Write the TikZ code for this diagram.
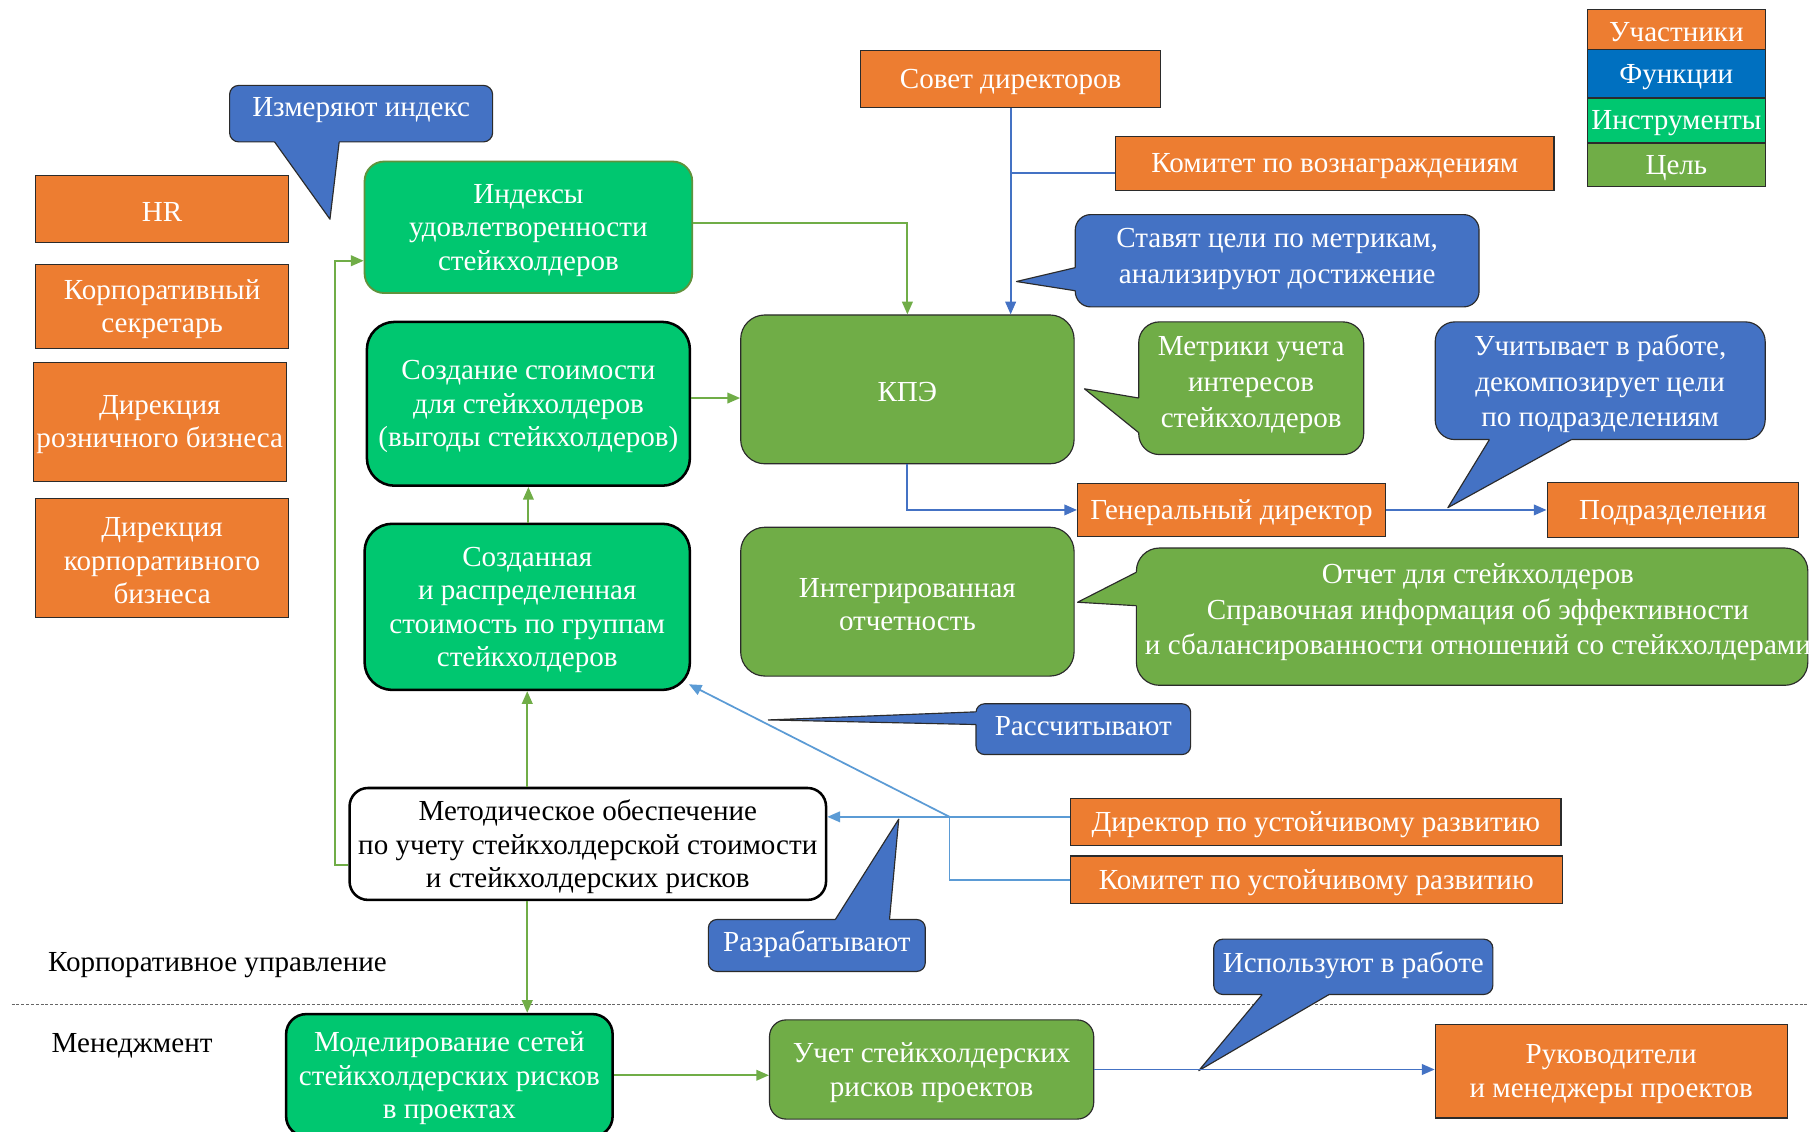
\documentclass[tikz,border=0pt]{standalone}
\usepackage{fontspec}
\setmainfont{Liberation Serif}
\usetikzlibrary{arrows.meta}
\definecolor{orng}{HTML}{ED7D31}
\definecolor{fblue}{HTML}{4472C4}
\definecolor{lgblue}{HTML}{0070C0}
\definecolor{tgreen}{HTML}{00C770}
\definecolor{ggreen}{HTML}{70AD47}
\definecolor{lblue}{HTML}{5B9BD5}
\definecolor{bord}{HTML}{2B2B2B}
\newcommand\bx[7]{%
 \pgfmathsetmacro\bxw{(#5-#3)*0.5}%
 \pgfmathsetmacro\bxh{(#6-#4)*0.5}%
 \node[#2, minimum width=\bxw pt, minimum height=\bxh pt] (#1) at ({(#3+#5)/2},{(#4+#6)/2}) {};
 \node[#2, draw=none, fill=none, yshift=-1.3pt] (#1-t) at (#1.center) {#7};}
\begin{document}
\begin{tikzpicture}[x=0.5pt,y=-0.5pt,
  box/.style={inner sep=0pt, align=center, font=\fontsize{12.6}{14.5}\selectfont},
  org/.style={box, fill=orng, draw=bord, line width=0.5pt, text=white},
  leg/.style={box, draw=bord, line width=0.5pt, text=white},
  tool/.style={box, fill=tgreen, text=white, draw=black, line width=1.1pt},
  toolg/.style={box, fill=tgreen, text=white, draw=ggreen!85!black, line width=0.8pt},
  goal/.style={box, fill=ggreen, text=white, draw=bord, line width=0.5pt},
  meth/.style={box, fill=white, text=black, draw=black, line width=1.1pt},
  plain/.style={box, text=black, yshift=-1.3pt},
  ctext/.style={inner sep=0pt, align=center, text=white, yshift=-1.3pt, font=\fontsize{12.6}{15.5}\selectfont},
  cblue/.style={fill=fblue, draw=bord, line width=0.5pt},
  cgreen/.style={fill=ggreen, draw=bord, line width=0.5pt},
  cedge/.style={draw=bord, line width=0.5pt, line join=round},
  tip/.style={-{Triangle[length=5.5pt,width=4.6pt]}},
  garrow/.style={draw=ggreen, line width=0.8pt, tip},
  barrow/.style={draw=fblue, line width=0.8pt, tip},
  bline/.style={draw=fblue, line width=0.8pt},
  lbarrow/.style={draw=lblue, line width=0.75pt, tip},
  lbline/.style={draw=lblue, line width=0.75pt},
  dashline/.style={draw=black!60, line width=0.45pt, dash pattern=on 1.3pt off 0.8pt}]
\useasboundingbox (0,0) rectangle (1568,981);
\fill[white] (0,0) rectangle (1568,981);

% legend
\bx{lu}{leg, fill=orng}{1376}{8}{1530}{43}{Участники}
\bx{lf}{leg, fill=lgblue}{1376}{43}{1530}{85}{Функции}
\bx{li}{leg, fill=tgreen}{1376}{85}{1530}{124}{Инструменты}
\bx{lc}{leg, fill=ggreen}{1376}{124}{1530}{162}{Цель}

% participants
\bx{hr}{org}{31}{152}{250}{210}{HR}
\bx{ksec}{org}{31}{229}{250}{302}{Корпоративный\\секретарь}
\bx{drb}{org}{29}{314}{248}{417}{Дирекция\\розничного бизнеса}
\bx{dkb}{org}{31}{432}{250}{535}{Дирекция\\корпоративного\\бизнеса}
\bx{sd}{org}{746}{44}{1006}{93}{Совет директоров}
\bx{kv}{org}{967}{118}{1347}{165}{Комитет по вознаграждениям}
\bx{gd}{org}{934}{419}{1201}{465}{Генеральный директор}
\bx{pod}{org}{1341}{418}{1559}{466}{Подразделения}
\bx{dur}{org}{928}{692}{1353}{733}{Директор по устойчивому развитию}
\bx{kur}{org}{928}{742}{1354}{783}{Комитет по устойчивому развитию}
\bx{rmp}{org}{1244}{888}{1549}{969}{Руководители\\и менеджеры проектов}

% instruments
\bx{idx}{toolg, rounded corners=8.5pt}{316}{140}{600}{254}{Индексы\\удовлетворенности\\стейкхолдеров}
\bx{cs}{tool, rounded corners=12pt}{318}{279}{598}{421}{Создание стоимости\\для стейкхолдеров\\(выгоды стейкхолдеров)}
\bx{crs}{tool, rounded corners=12pt}{316}{454}{598}{598}{Созданная\\и распределенная\\стоимость по группам\\стейкхолдеров}
\bx{met}{meth, rounded corners=8pt}{303}{683}{716}{780}{Методическое обеспечение\\по учету стейкхолдерской стоимости\\и стейкхолдерских рисков}
\bx{mod}{tool, rounded corners=8.7pt}{248}{879}{531}{985}{Моделирование сетей\\стейкхолдерских рисков\\в проектах}

% goals
\bx{kpe}{goal, rounded corners=10.5pt}{642}{273}{931}{402}{КПЭ}
\bx{io}{goal, rounded corners=10.5pt}{642}{457}{931}{586}{Интегрированная\\отчетность}
\bx{uch}{goal, rounded corners=7.2pt}{667}{884}{948}{970}{Учет стейкхолдерских\\рисков проектов}

% labels and divider
\node[plain] (lcu) at (188.5,834) {Корпоративное управление};
\node[plain] (lmg) at (114.5,904) {Менеджмент};
\coordinate (dl) at (10,871);
\coordinate (dr) at (1568,871);
\draw[dashline] (dl) -- (dr);

% callout: Измеряют индекс
\path[cblue, rounded corners=4pt] (199,74) rectangle (427,123);
\fill[fblue] (238,120) -- (238,123) -- (286,190) -- (294,123) -- (294,120) -- cycle;
\draw[cedge] (238,123) -- (286,190) -- (294,123);
\node[ctext] (izm) at (313,93) {Измеряют индекс};

% callout: Ставят цели
\path[cblue, rounded corners=6.7pt] (932,186) rectangle (1282,266);
\fill[fblue] (935,232) -- (932,232) -- (881,244) -- (932,252) -- (935,252) -- cycle;
\draw[cedge] (932,232) -- (881,244) -- (932,252);
\node[ctext] (stav) at (1107,222) {Ставят цели по метрикам,\\анализируют достижение};

% callout: Метрики
\path[cgreen, rounded corners=9pt] (987,279) rectangle (1182,394);
\fill[ggreen] (990,345) -- (987,345) -- (940,337) -- (987,375) -- (990,375) -- cycle;
\draw[cedge] (987,345) -- (940,337) -- (987,375);
\node[ctext] (metr) at (1084.5,331) {Метрики учета\\интересов\\стейкхолдеров};

% callout: Учитывает
\path[cblue, rounded corners=8.5pt] (1244,279) rectangle (1530,381);
\fill[fblue] (1291,378) -- (1291,381) -- (1255,440) -- (1362,381) -- (1362,378) -- cycle;
\draw[cedge] (1291,381) -- (1255,440) -- (1362,381);
\node[ctext] (uchit) at (1387,330) {Учитывает в работе,\\декомпозирует цели\\по подразделениям};

% callout: Отчет
\path[cgreen, rounded corners=10pt] (985,475) rectangle (1567,594);
\fill[ggreen] (988,496) -- (985,496) -- (934,522) -- (985,525) -- (988,525) -- cycle;
\draw[cedge] (985,496) -- (934,522) -- (985,525);
\node[ctext] (otch) at (1281,528) {Отчет для стейкхолдеров\\Справочная информация об эффективности\\и сбалансированности отношений со стейкхолдерами};

% callout: Рассчитывают
\path[cblue, rounded corners=3.7pt] (846,610) rectangle (1032,654);
\fill[fblue] (849,617) -- (846,617) -- (666,624) -- (846,628) -- (849,628) -- cycle;
\draw[cedge] (846,617) -- (666,624) -- (846,628);
\node[ctext] (rass) at (939,627) {Рассчитывают};

% callout: Разрабатывают
\path[cblue, rounded corners=3.7pt] (614,797) rectangle (802,842);
\fill[fblue] (724,800) -- (724,797) -- (779,710) -- (771,797) -- (771,800) -- cycle;
\draw[cedge] (724,797) -- (779,710) -- (771,797);
\node[ctext] (razr) at (708,816) {Разрабатывают};

% callout: Используют в работе
\path[cblue, rounded corners=4pt] (1052,814) rectangle (1294,862);
\fill[fblue] (1094,859) -- (1094,862) -- (1039,928) -- (1152,862) -- (1152,859) -- cycle;
\draw[cedge] (1094,862) -- (1039,928) -- (1152,862);
\node[ctext] (isp) at (1173,834) {Используют в работе};

% helper coordinates
\coordinate (h150) at (0,150);
\coordinate (h193) at (0,193);
\coordinate (h345) at (0,345);
\coordinate (h750) at (0,750);
\coordinate (h226) at (0,226);
\coordinate (v290) at (290,0);
\coordinate (jn) at (823,708);

% connectors
\draw[bline] (kv.west |- h150) -- (sd.south |- h150);
\draw[barrow] (sd.south) -- (sd.south |- kpe.north);
\draw[garrow] (idx.east |- h193) -| (kpe.north);
\draw[garrow] (cs.east |- h345) -- (kpe.west |- h345);
\draw[garrow] (cs.south |- crs.north) -- (cs.south);
\draw[garrow] (crs.south |- met.north) -- (crs.south);
\draw[garrow] (met.west |- h750) -- (v290 |- h750) -- (v290 |- h226) -- (idx.west |- h226);
\draw[garrow] (crs.south |- met.south) -- (crs.south |- mod.north);
\draw[garrow] (mod.east) -- (mod.east -| uch.west);
\draw[barrow] (uch.east) -- (uch.east -| rmp.west);
\draw[barrow] (kpe.south) |- (gd.west);
\draw[barrow] (gd.east) -- (pod.west);
\draw[lbarrow] (dur.west |- jn) -- (jn) -- (met.east |- jn);
\draw[lbline] (kur.west) -| (jn);
\draw[lbarrow] (jn) -- ([shift={(-2,-6)}]crs.south east);
\end{tikzpicture}
\end{document}
